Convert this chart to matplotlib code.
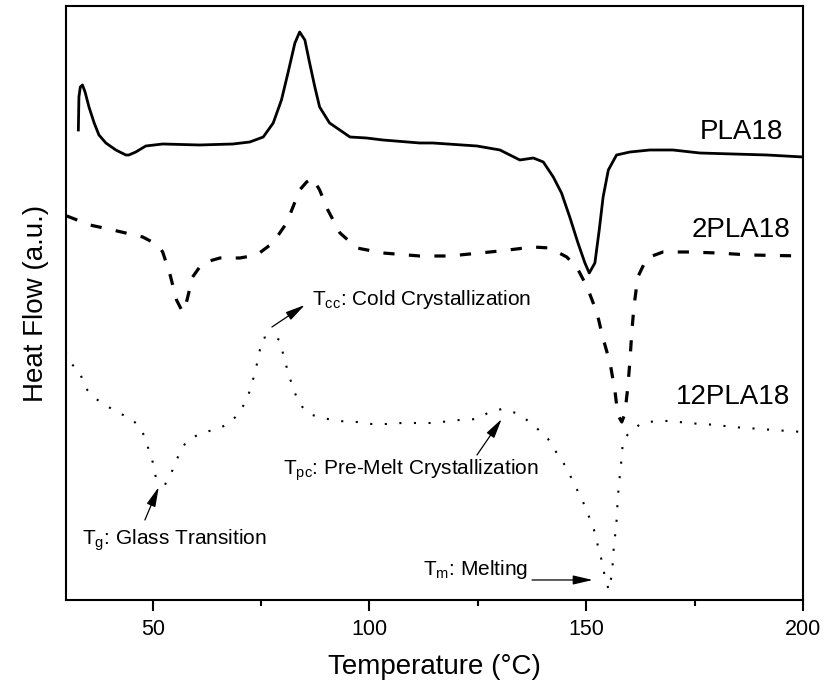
import matplotlib
matplotlib.use("Agg")
import matplotlib.pyplot as plt

plt.rcParams['font.family'] = ['Liberation Sans', 'DejaVu Sans']
plt.rcParams['mathtext.fontset'] = 'custom'
plt.rcParams['mathtext.rm'] = 'Liberation Sans'
plt.rcParams['mathtext.it'] = 'Liberation Sans:italic'

# ---- data (Temperature in °C, heat flow in a.u.) ----
pla18_T = [32.85, 32.98, 33.3, 33.8, 34.4, 35.3, 36.5, 37.6, 39.2, 41.5, 43.8, 44.5, 46.1,
           48.4, 52.3, 60.8, 68.5, 72.4, 75.5, 77.8, 79.7, 81.2, 82.8, 83.9, 85.1, 86.2,
           87.4, 88.5, 90.8, 95.5, 99.3, 103.1, 111.6, 114.6, 124.8, 130.1, 134.7, 137.8,
           140.1, 142.4, 144.3, 146.2, 148.1, 149.7, 150.7, 152.0, 153.0, 153.9, 155.1,
           157.0, 160.1, 164.7, 170.0, 176.2, 183.8, 191.7, 200.0]
pla18_H = [4.70, 5.03, 5.13, 5.15, 5.08, 4.93, 4.77, 4.65, 4.57, 4.50, 4.45, 4.45, 4.48,
           4.54, 4.56, 4.55, 4.56, 4.58, 4.63, 4.77, 5.00, 5.27, 5.57, 5.68, 5.60, 5.37,
           5.13, 4.93, 4.77, 4.63, 4.62, 4.60, 4.57, 4.57, 4.54, 4.50, 4.40, 4.42,
           4.38, 4.23, 4.07, 3.83, 3.57, 3.37, 3.27, 3.37, 3.70, 4.03, 4.30,
           4.45, 4.48, 4.50, 4.50, 4.47, 4.46, 4.45, 4.43]

pla2_T = [30.2, 35.5, 40.8, 47.7, 51.2, 52.3, 53.9, 55.5, 56.9, 57.8, 59.2, 61.5, 65.5,
          70.1, 74.0, 77.7, 80.9, 83.9, 85.5, 86.9, 88.5, 90.4, 93.2, 97.1, 103.1, 111.6,
          118.5, 130.1, 137.7, 141.6, 145.5, 147.8, 150.2, 152.5, 153.8, 155.5, 156.6,
          157.3, 158.2, 158.9, 159.6, 160.1, 160.5, 161.0, 161.9, 164.0, 167.7, 173.9,
          180.2, 187.8, 200.0]
pla2_H = [3.84, 3.75, 3.70, 3.63, 3.55, 3.48, 3.27, 3.00, 2.88, 2.98, 3.23, 3.37, 3.42,
          3.42, 3.45, 3.57, 3.77, 4.10, 4.18, 4.22, 4.10, 3.90, 3.67, 3.52, 3.47, 3.44,
          3.44, 3.49, 3.53, 3.52, 3.43, 3.33, 3.13, 2.87, 2.63, 2.37, 2.10,
          1.85, 1.78, 1.86, 2.13, 2.40, 2.67, 2.93, 3.23, 3.42, 3.48, 3.48,
          3.47, 3.45, 3.44]

pla12_T = [29.9, 30.8, 33.2, 34.3, 36.6, 39.4, 42.2, 45.2, 47.5, 48.8, 50.0, 50.7, 52.8,
           54.6, 56.0, 57.8, 60.8, 63.8, 67.1, 69.6, 71.7, 72.8, 73.8, 74.5, 75.4, 77.5,
           79.3, 80.2, 81.2, 82.3, 83.7, 86.0, 89.2, 92.7, 97.1, 100.5, 104.0, 107.5,
           114.6, 120.8, 124.8, 127.3, 130.5, 133.8, 136.3, 138.8, 141.2, 143.2, 145.5,
           147.2, 149.0, 150.4, 151.8, 152.7, 153.6, 154.3, 155.2, 155.9, 156.2, 156.4,
           156.9, 157.1, 157.3, 157.6, 158.0, 158.5, 160.1, 162.8, 166.3, 169.8, 173.2,
           176.7, 180.2, 183.6, 187.1, 193.1, 200.0]
pla12_H = [2.48, 2.38, 2.28, 2.13, 2.02, 1.94, 1.87, 1.81, 1.70, 1.54, 1.38, 1.23, 1.15,
           1.30, 1.45, 1.59, 1.66, 1.70, 1.75, 1.85, 2.00, 2.15, 2.31, 2.46, 2.62, 2.64,
           2.60, 2.44, 2.28, 2.13, 1.97, 1.86, 1.82, 1.79, 1.78, 1.76, 1.76, 1.77,
           1.77, 1.80, 1.81, 1.87, 1.91, 1.87, 1.80, 1.71, 1.61, 1.47, 1.32,
           1.16, 1.01, 0.86, 0.70, 0.54, 0.39, 0.23, 0.10, 0.25, 0.41, 0.56,
           0.72, 0.87, 1.03, 1.18, 1.34, 1.60, 1.68, 1.77, 1.79, 1.79, 1.77,
           1.76, 1.75, 1.73, 1.72, 1.70, 1.68]

series_names = ['PLA18', '2PLA18', '12PLA18']
x_ticks = [50, 100, 150, 200]
x_minor = [75, 125, 175]

# ---- figure ----
fig = plt.figure(figsize=(8.25, 6.89), dpi=100)
ax = fig.add_axes([0.08, 0.1292, 0.8933, 0.8621])

ax.plot(pla18_T, pla18_H, color='black', lw=2.0, solid_joinstyle='round')
ax.plot(pla2_T, pla2_H, color='black', lw=2.3, linestyle=(0, (3.5, 4.5)))
ax.plot(pla12_T, pla12_H, color='black', lw=1.5, linestyle=(0, (1, 6)))

ax.set_xlim(30, 200)
ax.set_ylim(0, 5.94)
ax.set_xticks(x_ticks)
ax.set_xticks(x_minor, minor=True)
ax.set_yticks([])
ax.tick_params(axis='x', which='major', direction='out', length=8, width=1.5,
               labelsize=15.5, pad=6)
ax.tick_params(axis='x', which='minor', direction='out', length=4.5, width=1.5)
for s in ax.spines.values():
    s.set_linewidth(1.5)

ax.set_xlabel('Temperature (°C)', fontsize=20, labelpad=10)
ax.set_ylabel('Heat Flow (a.u.)', fontsize=20, labelpad=12)

# curve labels
ax.text(195.4, 4.68, series_names[0], fontsize=20, ha='right', va='center')
ax.text(197.0, 3.70, series_names[1], fontsize=20, ha='right', va='center')
ax.text(197.0, 2.03, series_names[2], fontsize=20, ha='right', va='center')

arrow = dict(arrowstyle='-|>,head_length=0.6,head_width=0.14', lw=0.9, color='black',
             mutation_scale=20, shrinkA=0, shrinkB=0)

ax.text(86.7, 3.00, r'T$_{\mathrm{cc}}$: Cold Crystallization', fontsize=15, ha='left', va='center')
ax.annotate('', xy=(85.1, 2.95), xytext=(77.5, 2.73), arrowprops=arrow)

ax.text(33.8, 0.60, r'T$_{\mathrm{g}}$: Glass Transition', fontsize=15, ha='left', va='center')
ax.annotate('', xy=(51.4, 1.13), xytext=(48.2, 0.80), arrowprops=arrow)

ax.text(80.0, 1.30, r'T$_{\mathrm{pc}}$: Pre-Melt Crystallization', fontsize=15, ha='left', va='center')
ax.annotate('', xy=(130.5, 1.81), xytext=(124.8, 1.45), arrowprops=arrow)

ax.text(112.3, 0.30, r'T$_{\mathrm{m}}$: Melting', fontsize=15, ha='left', va='center')
ax.annotate('', xy=(151.5, 0.20), xytext=(137.5, 0.20), arrowprops=arrow)

fig.savefig('out.png', dpi=100)
